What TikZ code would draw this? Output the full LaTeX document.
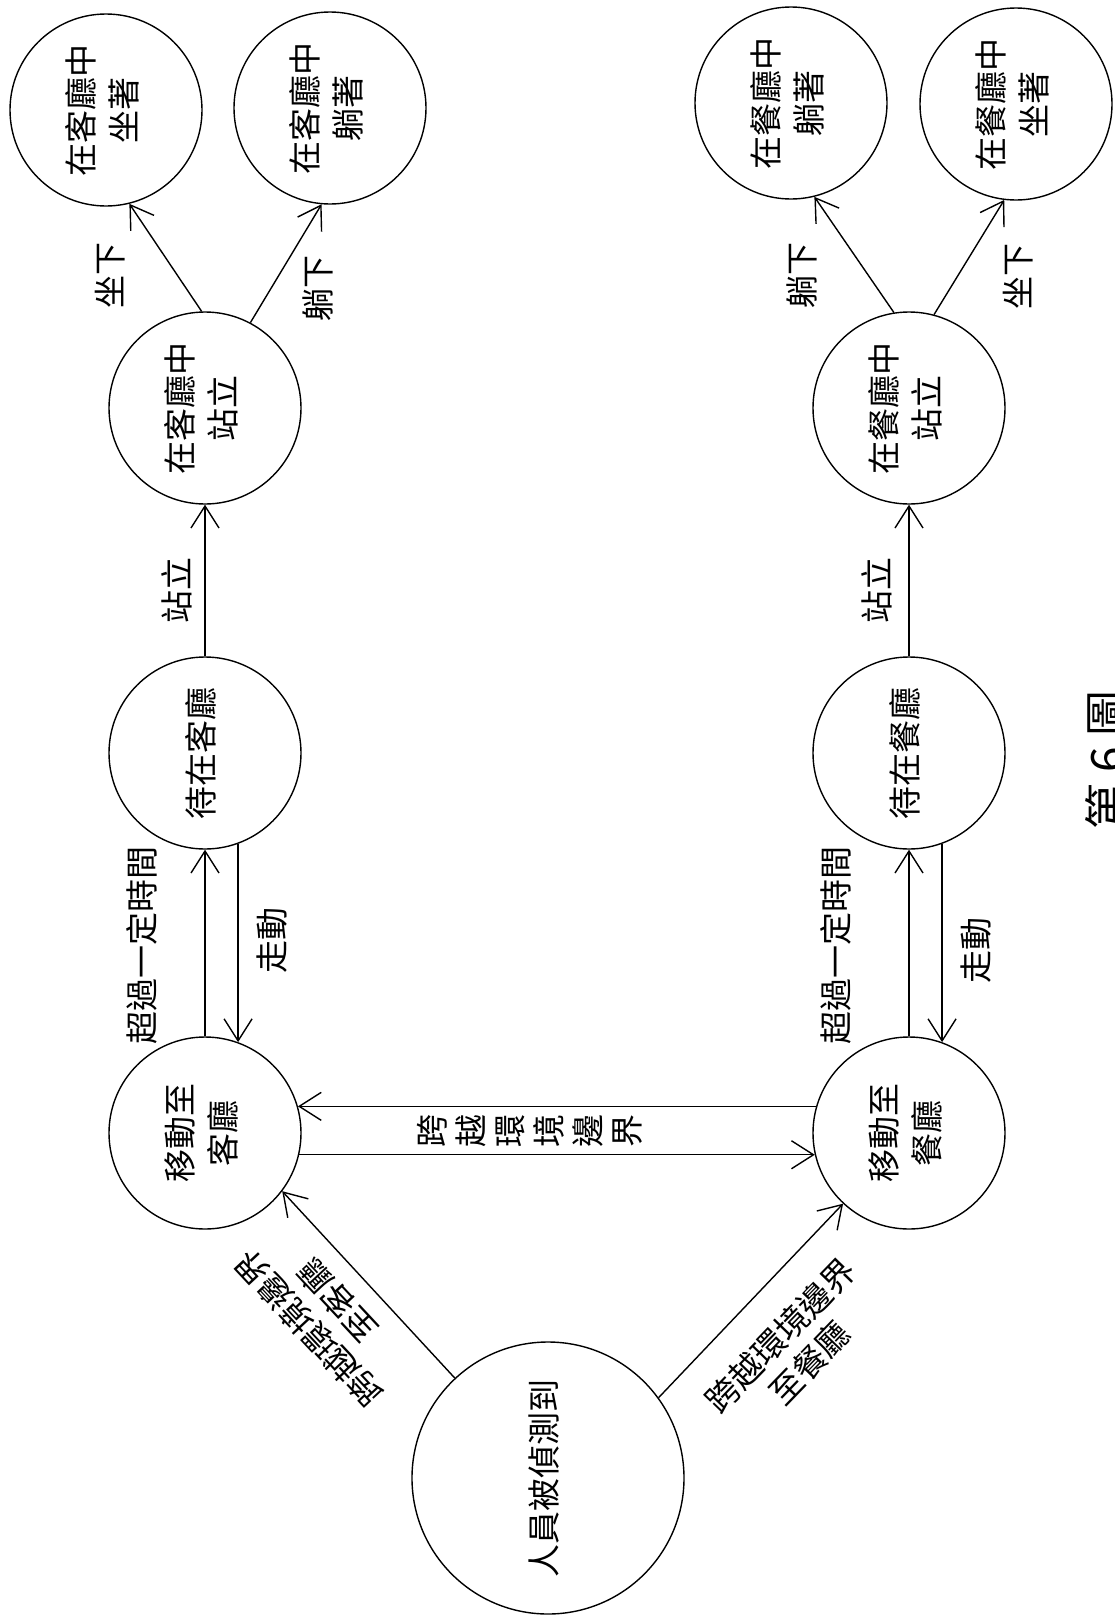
\documentclass[tikz,border=0pt]{standalone}
\usepackage{fontspec}
\usepackage{graphicx}
\setmainfont{Noto Sans CJK TC}
\usetikzlibrary{arrows.meta,calc}
\newcommand\vtxt[1]{\rotatebox{90}{\fontsize{33}{43}\selectfont\begin{tabular}{@{}c@{}}#1\end{tabular}}}
\begin{document}
\begin{tikzpicture}[x=1pt,y=-1pt,
  st/.style={circle,draw,line width=1.4pt,minimum size=192pt,inner sep=0pt},
  lbl/.style={font=\fontsize{33}{43}\selectfont, rotate=90, align=center, inner sep=0pt},
  arr/.style={line width=1.4pt,-{Straight Barb[length=22pt,width=28pt,line width=1.4pt]}},
]
\useasboundingbox[fill=white] (0,0) rectangle (1115,1617);
% states
\node[st] (A) at (106,110) {\vtxt{在客廳中\\坐著}};
\node[st] (B) at (330,108) {\vtxt{在客廳中\\躺著}};
\node[st] (C) at (791,103) {\vtxt{在餐廳中\\躺著}};
\node[st] (D) at (1016,104) {\vtxt{在餐廳中\\坐著}};
\node[st] (E) at (205,408) {\vtxt{在客廳中\\站立}};
\node[st] (F) at (909,408) {\vtxt{在餐廳中\\站立}};
\node[st] (G) at (205,753) {\vtxt{待在客廳}};
\node[st] (H) at (909,753) {\vtxt{待在餐廳}};
\node[st] (I) at (205,1133) {\vtxt{移動至\\客廳}};
\node[st] (J) at (909,1133) {\vtxt{移動至\\餐廳}};
\node[st,minimum size=272pt] (K) at (548,1478) {\vtxt{人員被偵測到}};
% connectors
\draw[arr] (G.north) -- (E.south);
\draw[arr] (E.92) -- (A.-76);
\draw[arr] (E.62) -- (B.-95);
\draw[arr] (H.north) -- (F.south);
\draw[arr] (F.99) -- (C.-76);
\draw[arr] (F.75) -- (D.-97);
\draw[arr] (I.north) -- (G.south);
\draw[arr] (G.-70) -- (I.70);
\draw[arr] (J.north) -- (H.south);
\draw[arr] (H.-70) -- (J.70);
\draw[arr] (J.164) -- (I.16);
\draw[arr] (I.-13) -- (J.193);
\draw[arr] (K.133) -- (I.-37.5);
\draw[arr] (K.36.4) -- (J.-133);
% labels
\node[lbl] (t1) at (177,590) {站立};
\node[lbl] (t2) at (877,590) {站立};
\node[lbl] (t3) at (110,275) {坐下};
\node[lbl] (t4) at (318,288) {躺下};
\node[lbl] (t5) at (802,275) {躺下};
\node[lbl] (t6) at (1018,276) {坐下};
\node[lbl] (t7) at (142,945) {超過一定時間};
\node[lbl] (t8) at (272,940) {走動};
\node[lbl] (t9) at (836,945) {超過一定時間};
\node[lbl] (t10) at (976,950) {走動};
\node[lbl,font=\fontsize{33}{39}\selectfont] (t11) at (530,1131) {跨\\越\\環\\境\\邊\\界};
\node[lbl,rotate=-44,font=\fontsize{33}{40}\selectfont] (t12) at (795,1349) {跨越環境邊界\\至餐廳};
\node[lbl,rotate=43,font=\fontsize{33}{40}\selectfont] (t13) at (323,1315) {跨越環境邊界\\至客廳};
\node[lbl,font=\fontsize{46}{46}\selectfont] (fig) at (1107,760) {第 6 圖};
\end{tikzpicture}
\end{document}
